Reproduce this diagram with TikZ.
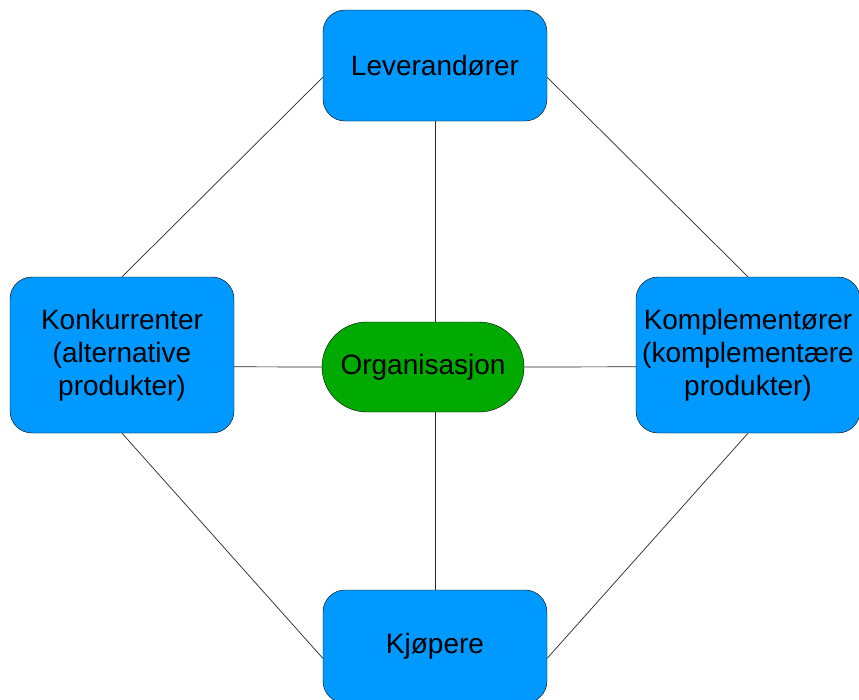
\documentclass[tikz,border=0pt]{standalone}
\usepackage{fontspec}
\setmainfont{Liberation Sans}
\usepackage{tikz}
\usetikzlibrary{calc,positioning}

\definecolor{boxblue}{RGB}{0,153,255}
\definecolor{orggreen}{RGB}{0,170,0}

\begin{document}
\begin{tikzpicture}[x=1pt,y=-1pt,
  box/.style={draw=black,fill=boxblue,rounded corners=22pt,inner sep=0pt,align=center,
    minimum width=224pt,font=\fontsize{28}{33}\selectfont},
  org/.style={draw=black,fill=orggreen,rounded corners=45pt,inner sep=0pt,
    minimum width=202pt,minimum height=90pt,font=\fontsize{28}{33}\selectfont},
  lnk/.style={line width=0.7pt,black!85}]
  \useasboundingbox (0,0) rectangle (859,699);
  \clip (0,0) rectangle (859,699);

  \node[box,minimum height=111pt] (lev) at (435,65.5) {Leverand\o rer};
  \node[box,minimum height=113pt] (kjop) at (435,646.5) {Kj\o pere};
  \node[box,minimum height=156pt] (konk) at (122,355) {Konkurrenter\\(alternative\\produkter)};
  \node[box,minimum height=156pt] (komp) at (748,355) {Komplement\o rer\\(komplement\ae re\\produkter)};

  \begin{scope}[on background layer/.try]
  \draw[lnk] (lev.south) -- (kjop.north);
  \draw[lnk] (lev.186) -- (konk.north);
  \draw[lnk] (lev.-6) -- (komp.north);
  \draw[lnk] (kjop.186) -- (konk.south);
  \draw[lnk] (kjop.-6) -- (komp.south);
  \end{scope}

  \node[org] (org) at (423,367) {Organisasjon};
  \draw[lnk] (konk.-6) -- (org.west);
  \draw[lnk] (org.east) -- (komp.186);
\end{tikzpicture}
\end{document}
